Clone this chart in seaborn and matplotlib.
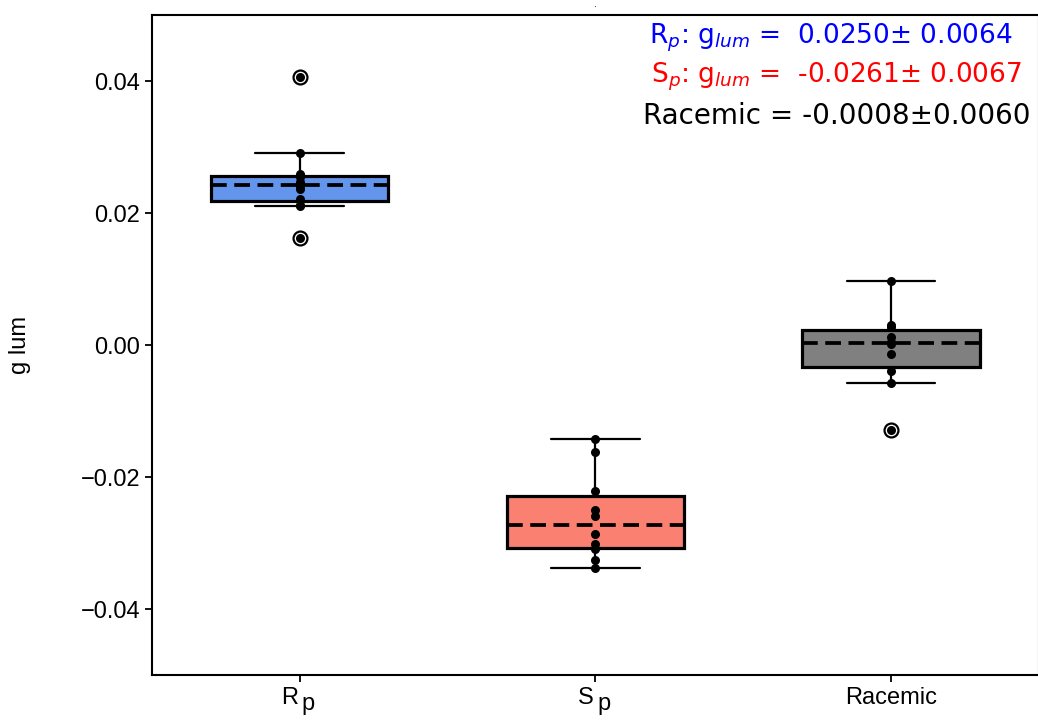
import numpy as np
import pandas as pd
import matplotlib
matplotlib.use("Agg")
import matplotlib.pyplot as plt
import matplotlib.transforms as mtransforms
import seaborn as sns

categories = ["Rp", "Sp", "Racemic"]
tick_main = ["R", "S", "Racemic"]
tick_sub = ["p", "p", ""]
rp_values = [0.0406, 0.0291, 0.0260, 0.0255, 0.0247, 0.0243, 0.0241, 0.0237, 0.0221, 0.0213, 0.0211, 0.0162]
sp_values = [-0.0143, -0.0162, -0.0221, -0.0250, -0.0259, -0.0287, -0.0302, -0.0309, -0.0326, -0.0338]
rac_values = [0.0097, 0.0031, 0.0027, 0.0013, 0.0004, 0.0001, -0.0013, -0.0040, -0.0057, -0.0129]
box_colors = ["#6495ED", "#FA8072", "#808080"]
annotations = [
    ("R$_p$: g$_{lum}$ =  0.0250± 0.0064", "#0000FF", 19),
    ("S$_p$: g$_{lum}$ =  -0.0261± 0.0067", "#FF0000", 19),
    ("Racemic = -0.0008±0.0060", "black", 20),
]

sns.set_theme(style="ticks")
plt.rcParams["font.family"] = ["DejaVu Sans"]
plt.rcParams["mathtext.fontset"] = "dejavusans"

df = pd.DataFrame({
    "group": ["Rp"] * len(rp_values) + ["Sp"] * len(sp_values) + ["Racemic"] * len(rac_values),
    "g": rp_values + sp_values + rac_values,
})

fig = plt.figure(figsize=(10.38, 7.25), dpi=100)
ax = fig.add_axes([0.1464, 0.069, 0.8545, 0.910])

sns.boxplot(data=df, x="group", y="g", hue="group", order=categories, hue_order=categories,
            palette=box_colors, saturation=1, width=0.6, legend=False, ax=ax,
            linecolor="black", linewidth=2,
            boxprops=dict(linewidth=2.3, edgecolor="black"),
            whiskerprops=dict(linewidth=1.6, color="black"),
            capprops=dict(linewidth=1.6, color="black"),
            medianprops=dict(linestyle=(0, (4.2, 2.0)), linewidth=2.7, color="black"),
            flierprops=dict(marker="o", markersize=10, markerfacecolor="white",
                            markeredgecolor="black", markeredgewidth=1.6))
sns.stripplot(data=df, x="group", y="g", order=categories, jitter=False, color="black",
              size=6.5, ax=ax, zorder=5)

ax.set_ylim(-0.05, 0.05)
ax.set_xlim(-0.5, 2.5)
ax.set_yticks([-0.04, -0.02, 0.0, 0.02, 0.04])
ax.set_xticks(range(len(categories)))
ax.set_xticklabels(tick_main, family="Liberation Sans")
ax.set_xlabel("")
ax.set_ylabel("g lum", fontsize=17, family="Liberation Sans", labelpad=36, color="black")
ax.tick_params(axis="both", labelsize=17, width=1.3, length=5, direction="out",
               color="black", labelcolor="black")
for lbl in ax.get_yticklabels():
    lbl.set_family("Liberation Sans")

# shift the "R"/"S" labels left so "R p" is centred on the tick, then add lowered "p"
xtrans = ax.get_xaxis_transform()
for i, (lbl, sub) in enumerate(zip(ax.get_xticklabels(), tick_sub)):
    if sub:
        lbl.set_horizontalalignment("right")
        lbl.set_transform(lbl.get_transform() + mtransforms.ScaledTranslation(-1 / 72, 0, fig.dpi_scale_trans))
        ax.annotate(sub, xy=(i, 0), xycoords=xtrans, xytext=(1.5, -13.0), textcoords="offset points",
                    ha="left", va="top", fontsize=17, family="Liberation Sans", color="black",
                    annotation_clip=False)

for sp in ax.spines.values():
    sp.set_linewidth(1.5)
    sp.set_color("black")

ax.set_title(".", fontsize=7, pad=6)

xs = [0.970, 0.981, 0.990]
ys = [0.965, 0.907, 0.848]
for (txt, col, fs), xx, yy in zip(annotations, xs, ys):
    ax.text(xx, yy, txt, transform=ax.transAxes, ha="right", va="center",
            fontsize=fs, color=col)

fig.savefig("out.png", dpi=100)
